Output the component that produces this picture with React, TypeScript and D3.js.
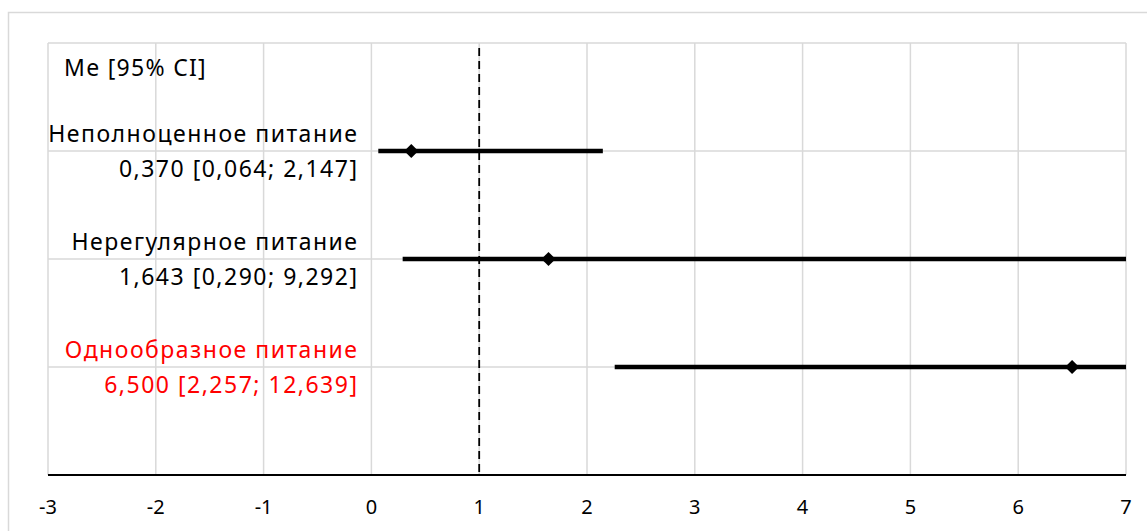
import React from "react";
import * as d3 from "d3";

const categories = ["Неполноценное питание", "Нерегулярное питание", "Однообразное питание"];
const medians = [0.37, 1.643, 6.5];
const lowerCI = [0.064, 0.29, 2.257];
const upperCI = [2.147, 9.292, 12.639];
const rowPositions = [3, 2, 1];
const labelColors = ["#000000", "#000000", "#ff0000"];
const xTicks = [-3, -2, -1, 0, 1, 2, 3, 4, 5, 6, 7];
const yGrid = [1, 2, 3, 4];
const headerLabel = "Me [95% CI]";
const refValue = 1;

const W = 1147;
const H = 531;
const FONT = "'Noto Sans', 'Open Sans', sans-serif";

const fmt = (v: number) => v.toFixed(3).replace(".", ",");

export default function App() {
  const x = d3.scaleLinear().domain([-3, 7]).range([48, 1126]);
  const y = d3.scaleLinear().domain([0, 4]).range([475, 43]);
  const [xMin, xMax] = x.domain();
  const diamond = d3.symbol().type(d3.symbolSquare).size(100)() as string;

  return (
    <svg
      width={W}
      height={H}
      style={{ position: "absolute", left: 0, top: 0, background: "#fff" }}
      fontFamily={FONT}
    >
      <rect x={8.5} y={12.5} width={W + 20} height={H + 20} fill="#fff" stroke="#d9d9d9" strokeWidth={1.5} />
      {xTicks.map((t) => (
        <line key={"vx" + t} x1={x(t)} x2={x(t)} y1={y(4)} y2={y(0)} stroke="#d9d9d9" strokeWidth={1.5} />
      ))}
      {yGrid.map((g) => (
        <line key={"hy" + g} x1={x(xMin)} x2={x(xMax)} y1={y(g)} y2={y(g)} stroke="#d9d9d9" strokeWidth={1.5} />
      ))}
      <line x1={x(xMin)} x2={x(xMax)} y1={y(0)} y2={y(0)} stroke="#000" strokeWidth={2.2} />
      <line
        x1={x(refValue)}
        x2={x(refValue)}
        y1={y(4) + 5}
        y2={y(0)}
        stroke="#000"
        strokeWidth={1.8}
        strokeDasharray="8,5"
      />
      <text x={64} y={76} fontSize={23} letterSpacing={1.3} fill="#000">{headerLabel}</text>
      {categories.map((c, i) => {
        const cy = y(rowPositions[i]);
        const lo = Math.max(lowerCI[i], xMin);
        const hi = Math.min(upperCI[i], xMax);
        return (
          <g key={c}>
            <text x={358.5} y={cy - 9} fontSize={23} letterSpacing={1.5} textAnchor="end" fill={labelColors[i]}>{c}</text>
            <text x={358.5} y={cy + 26} fontSize={23} letterSpacing={1.5} textAnchor="end" fill={labelColors[i]}>
              {`${fmt(medians[i])} [${fmt(lowerCI[i])}; ${fmt(upperCI[i])}]`}
            </text>
            <line x1={x(lo)} x2={x(hi)} y1={cy} y2={cy} stroke="#000" strokeWidth={4.5} strokeLinecap="butt" />
            <path d={diamond} transform={`translate(${x(medians[i])},${cy}) rotate(45)`} fill="#000" />
          </g>
        );
      })}
      {xTicks.map((t) => (
        <text key={"tx" + t} x={x(t)} y={514} fontSize={20} textAnchor="middle" fill="#000">
          {String(t)}
        </text>
      ))}
    </svg>
  );
}
